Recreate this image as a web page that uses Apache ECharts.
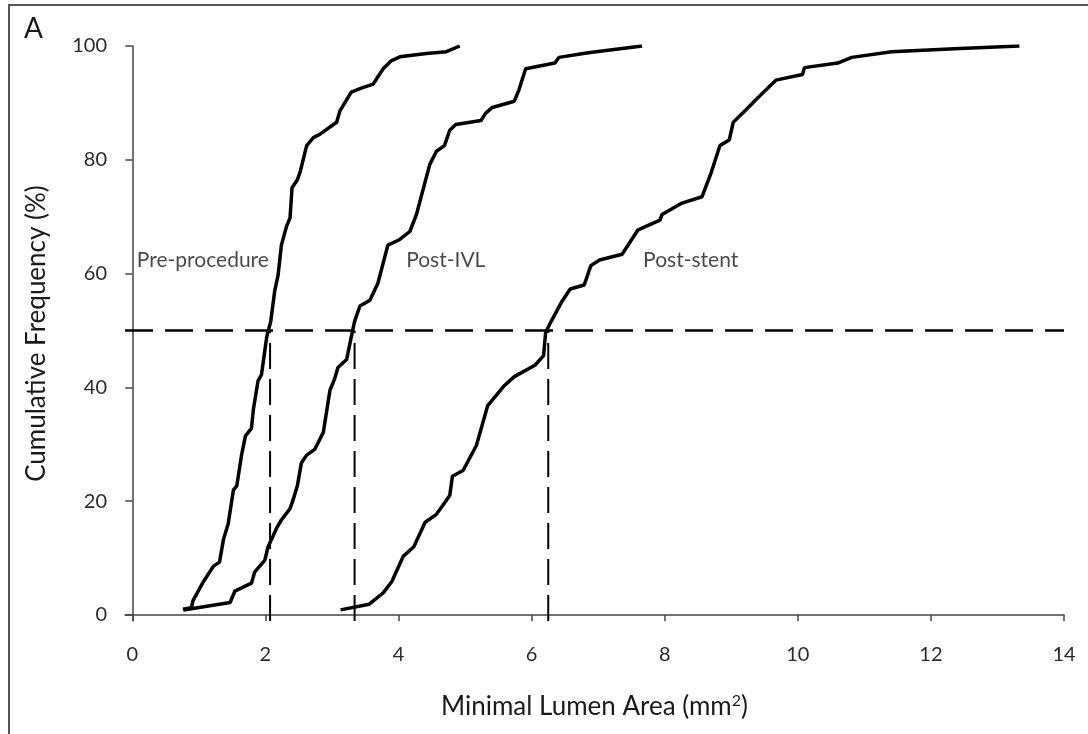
<!DOCTYPE html>
<html>
<head>
<meta charset="utf-8">
<script src="https://cdn.jsdelivr.net/npm/echarts@6/dist/echarts.min.js"></script>
<style>
  html, body { margin: 0; padding: 0; background: #fff; }
  #chart { position: absolute; left: 0; top: 0; width: 1088px; height: 734px; }
  #frame { position: absolute; left: 8px; top: 4px; width: 1090px; height: 740px;
           border-left: 2px solid #555; border-top: 2px solid #555; pointer-events: none; }
</style>
</head>
<body>
<div id="chart"></div>
<div id="frame"></div>
<script>
// ---- data ----
const preProcedure = [
  [0.76,1.0],[0.89,1.3],[0.91,2.5],[1.07,5.9],[1.22,8.6],[1.31,9.3],[1.37,13.3],[1.44,16.0],
  [1.52,22.0],[1.57,22.7],[1.64,28.0],[1.70,31.5],[1.79,32.8],[1.82,36.2],[1.89,41.2],[1.94,42.2],
  [2.02,48.9],[2.08,51.6],[2.14,57.0],[2.19,59.7],[2.24,65.0],[2.32,68.4],[2.37,69.8],[2.40,75.1],
  [2.48,76.5],[2.52,77.8],[2.62,82.5],[2.72,83.9],[2.82,84.5],[3.07,86.6],[3.12,88.6],[3.29,91.9],
  [3.44,92.6],[3.62,93.3],[3.69,94.6],[3.77,96.0],[3.89,97.4],[4.02,98.1],[4.42,98.7],[4.72,99.0],
  [4.92,100]
];
const postIVL = [
  [0.77,0.9],[1.47,2.2],[1.54,4.2],[1.79,5.6],[1.84,7.6],[1.99,9.6],[2.04,12.0],[2.17,15.3],
  [2.24,16.7],[2.37,18.7],[2.42,20.4],[2.48,22.7],[2.54,26.7],[2.62,28.1],[2.74,29.1],[2.87,32.1],
  [2.97,39.5],[3.04,41.5],[3.09,43.5],[3.22,44.9],[3.28,48.3],[3.34,51.6],[3.42,54.3],[3.57,55.3],
  [3.69,58.3],[3.84,65.0],[4.02,66.0],[4.17,67.4],[4.27,70.4],[4.34,73.5],[4.47,79.2],[4.57,81.5],
  [4.69,82.5],[4.77,85.2],[4.86,86.2],[5.24,86.9],[5.31,88.2],[5.41,89.2],[5.74,90.3],[5.81,92.3],
  [5.91,96.0],[6.35,97.0],[6.41,98.0],[6.85,98.8],[7.66,100]
];
const postStent = [
  [3.13,0.9],[3.56,1.9],[3.77,3.9],[3.90,5.9],[4.07,10.3],[4.23,12.0],[4.40,16.3],[4.57,17.7],
  [4.77,21.0],[4.81,24.4],[4.97,25.4],[5.17,29.8],[5.34,36.8],[5.58,40.2],[5.74,41.9],[6.05,43.9],
  [6.18,45.6],[6.21,49.6],[6.28,51.3],[6.45,55.0],[6.58,57.3],[6.79,58.0],[6.89,61.4],[7.02,62.4],
  [7.36,63.4],[7.60,67.7],[7.93,69.4],[7.96,70.4],[8.26,72.4],[8.56,73.5],[8.70,77.8],[8.83,82.5],
  [8.97,83.5],[9.03,86.6],[9.23,88.9],[9.40,90.9],[9.67,94.0],[10.07,95.0],[10.10,96.2],[10.60,97.0],
  [10.81,98.0],[11.41,99.0],[12.35,99.5],[13.33,100]
];
const medianLevel = 50;
const medians = [2.07, 3.34, 6.25];
const xTicks = [0, 2, 4, 6, 8, 10, 12, 14];
const yTicks = [0, 20, 40, 60, 80, 100];
const labelNames = ['Pre-procedure', 'Post-IVL', 'Post-stent'];
const labelX = [1.06, 4.71, 8.39];
const labelY = [62.4, 62.4, 62.4];

// ---- chart ----
const X_MIN = -0.11, X_MAX = 14, Y_MIN = -1.05, Y_MAX = 100;
const FONT = 'Lato';
const chart = echarts.init(document.getElementById('chart'), null, { renderer: 'canvas' });

const curveStyle = { color: '#000', width: 3.5 };
const series = [];
[preProcedure, postIVL, postStent].forEach(d => {
  series.push({ type: 'line', data: d, symbol: 'none', lineStyle: curveStyle, z: 3, silent: true });
});
series.push({
  type: 'line', symbol: 'none', silent: true, z: 2,
  data: [[X_MIN, medianLevel], [X_MAX, medianLevel]],
  lineStyle: { color: '#000', width: 2.5, type: [28, 12] }
});
medians.forEach(m => {
  series.push({
    type: 'line', symbol: 'none', silent: true, z: 2,
    data: [[m, Y_MIN], [m, medianLevel]],
    lineStyle: { color: '#000', width: 2, type: [26, 10] }
  });
});
series.push({
  type: 'scatter', symbolSize: 0, silent: true,
  data: labelNames.map((n, i) => ({ value: [labelX[i], labelY[i]], name: n })),
  label: { show: true, position: 'inside', formatter: p => p.name,
           fontFamily: FONT, fontSize: 21, color: '#1a1a1a' }
});

chart.setOption({
  animation: false,
  textStyle: { fontFamily: FONT },
  graphic: [{ type: 'text', left: 24, top: 15, style: { text: 'A', fontFamily: FONT, fontSize: 28, fill: '#1a1a1a' } }],
  grid: { left: 125, right: 24, top: 46, bottom: 113, containLabel: false },
  xAxis: {
    type: 'value', min: X_MIN, max: X_MAX,
    splitLine: { show: false },
    axisLine: { lineStyle: { color: '#444', width: 1.5 } },
    axisTick: { customValues: xTicks, length: 6, lineStyle: { color: '#444', width: 1.5 } },
    axisLabel: { customValues: xTicks, margin: 24, fontSize: 20, color: '#2a2a2a', fontFamily: FONT },
    name: 'Minimal Lumen Area (mm{sup|2})', nameLocation: 'middle', nameGap: 72,
    nameTextStyle: { fontSize: 26, color: '#1a1a1a', fontFamily: FONT,
      rich: { sup: { fontSize: 16, verticalAlign: 'top', padding: [0, 0, 12, 0], color: '#1a1a1a', fontFamily: FONT } } }
  },
  yAxis: {
    type: 'value', min: Y_MIN, max: Y_MAX,
    splitLine: { show: false },
    axisLine: { lineStyle: { color: '#444', width: 1.5 } },
    axisTick: { customValues: yTicks, length: 7, lineStyle: { color: '#444', width: 1.5 } },
    axisLabel: { customValues: yTicks, margin: 18, fontSize: 20, color: '#2a2a2a', fontFamily: FONT },
    name: 'Cumulative Frequency (%)', nameLocation: 'middle', nameGap: 75, nameRotate: 90,
    nameTextStyle: { fontSize: 26, color: '#1a1a1a', fontFamily: FONT }
  },
  series: series
});
</script>
</body>
</html>
